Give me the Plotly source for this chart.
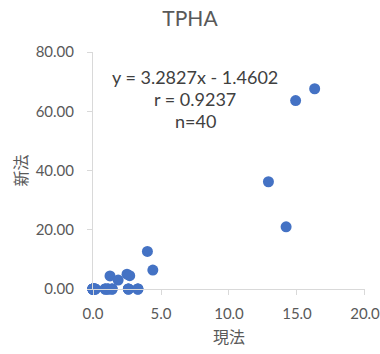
import plotly.graph_objects as go

x_genho = [16.3, 14.9, 12.9, 14.2, 4.0, 4.4, 1.25, 1.85, 2.5, 2.7,
           0.0, 0.0, 0.0, 0.0, 0.0, 0.0, 0.0, 0.0, 0.0, 0.0,
           0.15, 0.15, 0.15, 0.15, 0.9, 0.9, 0.9, 1.1, 1.1, 1.1,
           1.4, 1.4, 1.4, 2.6, 2.6, 2.6, 3.3, 3.3, 3.3, 0.0]
y_shinho = [67.6, 63.6, 36.2, 21.0, 12.7, 6.4, 4.4, 3.0, 5.0, 4.5,
            0.0, 0.0, 0.0, 0.0, 0.0, 0.0, 0.0, 0.0, 0.0, 0.0,
            0.0, 0.0, 0.0, 0.0, 0.0, 0.0, 0.0, 0.0, 0.0, 0.0,
            0.0, 0.0, 0.0, 0.0, 0.0, 0.0, 0.0, 0.0, 0.0, 0.0]

x_ticks = [0, 5, 10, 15, 20]
x_ticklabels = ["0.0", "5.0", "10.0", "15.0", "20.0"]
y_ticks = [0, 20, 40, 60, 80]
y_ticklabels = ["0.00", "20.00", "40.00", "60.00", "80.00"]

title = "TPHA"
x_title = "現法"
y_title = "新法"
stats_lines = ["y = 3.2827x - 1.4602", "r = 0.9237", "n=40"]

FONT = "Lato, 'Noto Sans CJK JP', sans-serif"
GRAY = "#595959"
AXIS = "#D9D9D9"

fig = go.Figure()
fig.add_trace(go.Scatter(
    x=x_genho, y=y_shinho, mode="markers",
    marker=dict(size=11, color="#4472C4"),
    cliponaxis=False, showlegend=False, hoverinfo="skip"))

for i, line in enumerate(stats_lines):
    fig.add_annotation(
        text=line, xref="paper", yref="paper",
        x=0.375, y=0.8945 - i * 0.0928, xanchor="center", yanchor="middle",
        showarrow=False, align="center",
        font=dict(family=FONT, size=18, color="#404040"))

fig.update_layout(
    width=380, height=354,
    margin=dict(l=93, r=15, t=52, b=65),
    paper_bgcolor="white", plot_bgcolor="white",
    title=dict(text=title, x=0.5, xref="container", xanchor="center",
               y=1 - 19/354, yref="container", yanchor="middle",
               font=dict(family=FONT, size=21, color=GRAY)),
    font=dict(family=FONT, color=GRAY),
    xaxis=dict(range=[0, 20.001], tickvals=x_ticks, ticktext=x_ticklabels,
               showgrid=False, zeroline=False, showline=True, automargin=False,
               linecolor=AXIS, linewidth=1, ticks="outside", ticklen=5,
               tickcolor=AXIS, ticklabelstandoff=6, ticklabeloverflow="allow",
               tickfont=dict(family=FONT, size=15, color=GRAY),
               title=dict(text=x_title, standoff=10,
                          font=dict(family=FONT, size=16, color=GRAY))),
    yaxis=dict(range=[0, 80], tickvals=y_ticks, ticktext=y_ticklabels,
               showgrid=False, zeroline=False, showline=True, automargin=False,
               linecolor=AXIS, linewidth=1, ticks="outside", ticklen=5,
               tickcolor=AXIS, ticklabelstandoff=10, ticklabeloverflow="allow",
               tickfont=dict(family=FONT, size=15, color=GRAY),
               title=dict(text=y_title, standoff=4,
                          font=dict(family=FONT, size=16, color=GRAY))),
)

fig.write_html("out.html")
